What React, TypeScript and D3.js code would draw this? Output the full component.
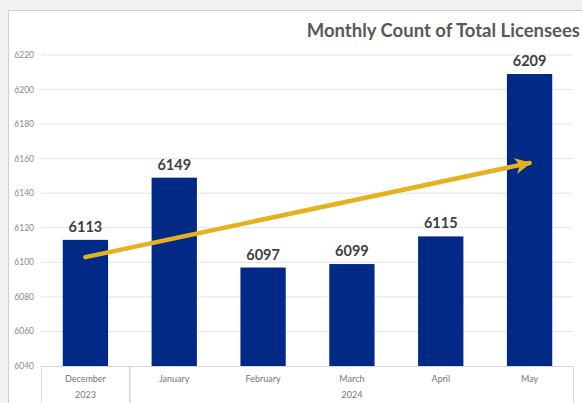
import React from 'react';
import * as d3 from 'd3';

// chart data
const months = ['December', 'January', 'February', 'March', 'April', 'May'];
const years = ['2023', '2024', '2024', '2024', '2024', '2024'];
const licensees = [6113, 6149, 6097, 6099, 6115, 6209];
const yTicks = [6040, 6060, 6080, 6100, 6120, 6140, 6160, 6180, 6200, 6220];
// trend arrow: from December to May
const arrowFrom = { month: 'December', value: 6103 };
const arrowTo = { month: 'May', value: 6157.5 };

const W = 582;
const H = 403;
const margin = { top: 55, right: 8, bottom: 37, left: 41 };
const FONT = 'Lato, "Open Sans", sans-serif';

export default function App() {
  const innerW = W - margin.left - margin.right;
  const innerH = H - margin.top - margin.bottom;

  const x = d3.scaleBand().domain(months).range([0, innerW]).paddingInner(0.49).paddingOuter(0.245);
  const y = d3.scaleLinear().domain([6040, 6220]).range([innerH, 0]);

  // group the category axis by year
  const groups = d3.groups(months.map((m, i) => ({ m, yr: years[i] })), d => d.yr).map(([yr, items]) => {
    const first = x(items[0].m)! - (x.step() - x.bandwidth()) / 2;
    const last = x(items[items.length - 1].m)! + x.bandwidth() + (x.step() - x.bandwidth()) / 2;
    return { yr, x0: first, x1: last };
  });

  const ax1 = x(arrowFrom.month)! + x.bandwidth() / 2;
  const ay1 = y(arrowFrom.value);
  const ax2 = x(arrowTo.month)! + x.bandwidth() / 2;
  const ay2 = y(arrowTo.value);

  return (
    <svg width={W} height={H} style={{ position: 'absolute', left: 0, top: 0, background: '#f2f2f2' }}>
      <defs>
        <marker id="head" viewBox="0 0 10 10" refX="9" refY="5" markerWidth="3.6" markerHeight="3.6" orient="auto">
          <path d="M0,0 L10,5 L0,10 L3,5 z" fill="#E5B21F" />
        </marker>
      </defs>
      <rect x={8.5} y={10.5} width={W} height={H} fill="#fff" stroke="#cfcfcf" />
      <text x={580} y={37} textAnchor="end" fontFamily={FONT} fontWeight="bold" fontSize={18.5} fill="#595959">
        Monthly Count of Total Licensees
      </text>
      <g transform={`translate(${margin.left},${margin.top})`}>
        {yTicks.map(t => (
          <g key={t}>
            {t > 6040 && <line x1={0} x2={innerW - 1} y1={y(t)} y2={y(t)} stroke="#e3e3e3" strokeWidth={1} />}
            <text x={-7} y={y(t)} dy="0.35em" textAnchor="end" fontFamily={FONT} fontSize={8.5} fill="#8a8a8a">
              {t}
            </text>
          </g>
        ))}
        {months.map((m, i) => (
          <g key={m}>
            <rect x={x(m)} y={y(licensees[i])} width={x.bandwidth()} height={innerH - y(licensees[i])} fill="#002A86" />
            <text
              x={x(m)! + x.bandwidth() / 2}
              y={y(licensees[i]) - 8}
              textAnchor="middle"
              fontFamily={FONT}
              fontWeight="bold"
              fontSize={14.5}
              fill="#404040"
            >
              {licensees[i]}
            </text>
            <text x={x(m)! + x.bandwidth() / 2} y={innerH + 16} textAnchor="middle" fontFamily={FONT} fontSize={9} fill="#777">
              {m}
            </text>
          </g>
        ))}
        <line x1={0} x2={innerW} y1={innerH + 0.5} y2={innerH + 0.5} stroke="#d9d9d9" />
        {groups.map(g => (
          <g key={g.yr}>
            <line x1={g.x0 + 0.5} x2={g.x0 + 0.5} y1={innerH} y2={H} stroke="#d9d9d9" />
            <line x1={g.x1 - 0.5} x2={g.x1 - 0.5} y1={innerH} y2={H} stroke="#d9d9d9" />
            <text x={(g.x0 + g.x1) / 2} y={innerH + 32} textAnchor="middle" fontFamily={FONT} fontSize={9} fill="#777">
              {g.yr}
            </text>
          </g>
        ))}
        <line
          x1={ax1}
          y1={ay1}
          x2={ax2}
          y2={ay2}
          stroke="#E5B21F"
          strokeWidth={4.5}
          strokeLinecap="round"
          markerEnd="url(#head)"
        />
      </g>
    </svg>
  );
}
